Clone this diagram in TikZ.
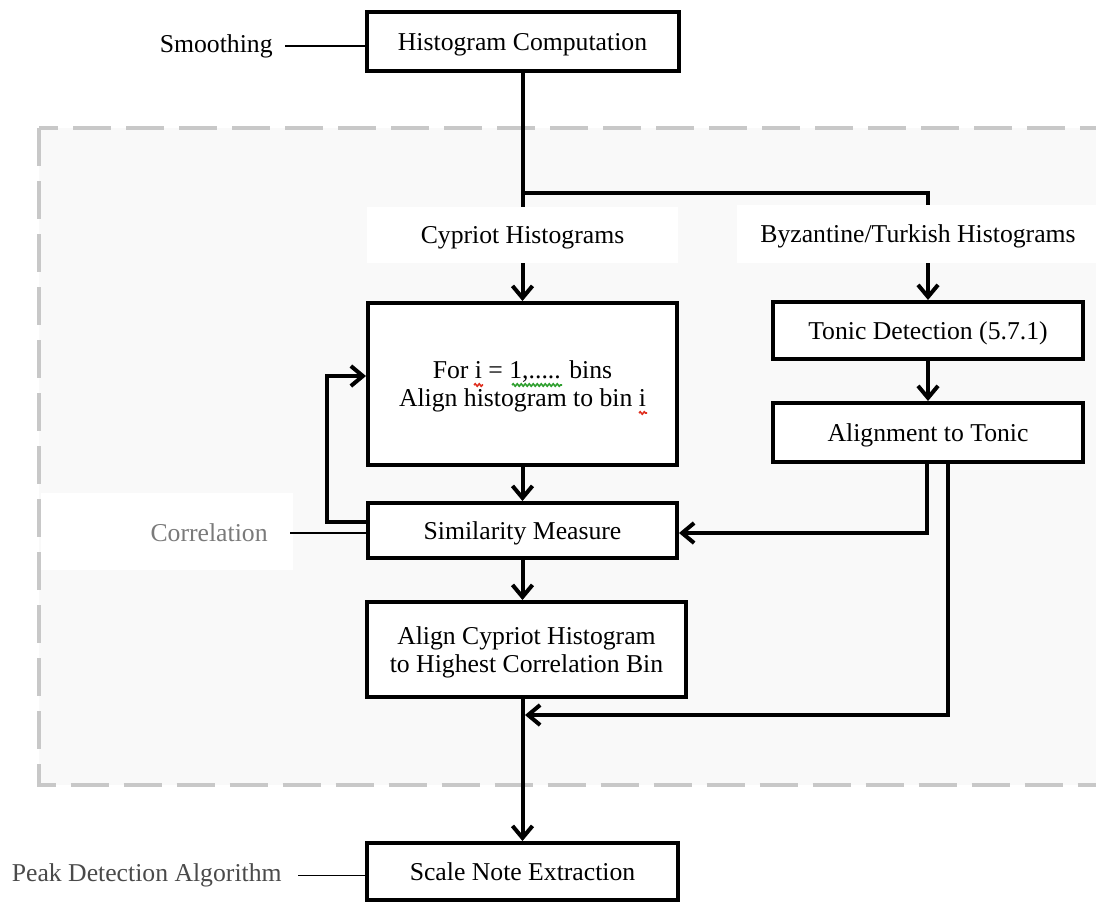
\documentclass[tikz,border=0pt]{standalone}
\usepackage{fontspec}
\setmainfont{Liberation Serif}
\usetikzlibrary{arrows.meta,decorations.pathmorphing}

\definecolor{framegray}{HTML}{C8C8C8}
\definecolor{framefill}{HTML}{F9F9F9}
\definecolor{corrgray}{HTML}{7A7A7A}
\definecolor{peakgray}{HTML}{4A4A4A}
\definecolor{spellred}{HTML}{E03020}
\definecolor{spellgreen}{HTML}{30A030}

\begin{document}
\begin{tikzpicture}[x=0.5pt,y=-0.5pt]

    % Styles
    \tikzstyle{box} = [rectangle, minimum width=155pt, minimum height=28.5pt, inner sep=0pt, text depth=0pt, align=center, draw=black, line width=2pt, fill=white, font=\fontsize{12.85}{14}\selectfont]
    \tikzstyle{patch} = [rectangle, minimum width=155.5pt, minimum height=28pt, inner sep=0pt, text depth=0pt, fill=white, font=\fontsize{12.85}{14}\selectfont]
    \tikzstyle{note} = [inner sep=0pt, anchor=east, font=\fontsize{12.85}{14}\selectfont]
    \tikzstyle{arrow} = [line width=2pt,->,>={Straight Barb[length=6pt,width=10pt]}]
    \tikzstyle{link} = [line width=2pt]
    \tikzstyle{leader} = [line width=0.7pt]
    \tikzstyle{frame} = [draw=framegray, fill=framefill, line width=2pt, dash pattern=on 19pt off 7.5pt]
    \tikzstyle{spell} = [line width=0.8pt, decorate, decoration={snake, amplitude=0.6pt, segment length=2pt}]

    \useasboundingbox (0,0) rectangle (1096,901);

    % Cadre
    \draw[frame] (38.5,128) rectangle (1140,785);
    \fill[white] (41,493) rectangle (293,570);

    % Noeuds
    \node (hist) [box, minimum width=156pt, minimum height=29.5pt] at (522.5,41.5) {Histogram Computation};
    \node (smooth) [note] at (273,46) {Smoothing};
    \node (cyp) [patch] at (522.5,235) {Cypriot Histograms};
    \node (byz) [patch, minimum width=181.5pt, minimum height=29pt] at (918,234) {Byzantine/Turkish Histograms};
    \node (forbox) [box, minimum width=154.5pt, minimum height=81pt] at (522.5,384) {For i = 1,..... bins\\Align histogram to bin i};
    \node (sim) [box, minimum width=154.5pt, minimum height=27.5pt] at (522.5,530.5) {Similarity Measure};
    \node (corr) [note, text=corrgray] at (268,533) {Correlation};
    \node (align) [box, minimum width=159.5pt, minimum height=47.5pt] at (526.5,649.5) {Align Cypriot Histogram\\to Highest Correlation Bin};
    \node (tonic) [box] at (928,330.5) {Tonic Detection (5.7.1)};
    \node (alignT) [box, minimum height=29.5pt] at (928,432.5) {Alignment to Tonic};
    \node (scale) [box, minimum width=155.5pt] at (522.5,871.5) {Scale Note Extraction};
    \node (peak) [note, text=peakgray] at (282,875.5) {Peak Detection Algorithm};
    \coordinate (split) at (522.5,193);
    \coordinate (merge) at (525,715);

    % Soulignements
    \draw[spell, spellred] (474,385) -- (483,385);
    \draw[spell, spellgreen] (512,385) -- (562,385);
    \draw[spell, spellred] (639,413) -- (647,413);

    % Fleches
    \draw[leader] ([xshift=6pt]smooth.east) -- (smooth.east -| hist.west);
    \draw[leader] ([xshift=11pt]corr.east) -- (corr.east -| sim.west);
    \draw[leader] ([xshift=8pt]peak.east) -- (peak.east -| scale.west);
    \draw[link] (hist) -- (cyp);
    \draw[link] (split) -| (byz.north -| tonic.north);
    \draw[arrow] (cyp) -- (forbox);
    \draw[arrow] (byz.south -| tonic.north) -- (tonic);
    \draw[arrow] (tonic) -- (alignT);
    \draw[arrow] (forbox) -- (sim);
    \draw[arrow] (sim.south) -- (sim.south |- align.north);
    \draw[arrow] ([yshift=4.25pt]sim.west) -- ++(-39,0) |- ([yshift=4pt]forbox.west);
    \draw[arrow] ([xshift=-0.5pt]alignT.south) |- ([yshift=-1.25pt]sim.east);
    \draw[arrow] ([xshift=10pt]alignT.south) |- (merge);
    \draw[arrow] (scale.north |- align.south) -- (scale);

\end{tikzpicture}
\end{document}
